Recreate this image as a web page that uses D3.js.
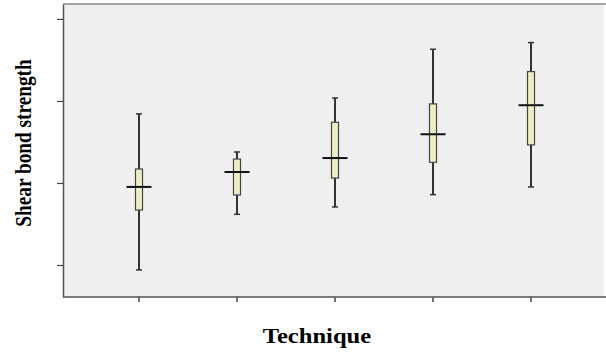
<!DOCTYPE html>
<html>
<head>
<meta charset="utf-8">
<script src="https://cdn.jsdelivr.net/npm/d3@7"></script>
<style>
  body { margin: 0; background: #fff; }
  svg { display: block; }
</style>
</head>
<body>
<svg id="chart" width="606" height="352"></svg>
<script>
// data (no value labels on the axis, so the units are arbitrary)
var techniques = ["T1", "T2", "T3", "T4", "T5"];
var whiskerLow  = [4.70, 8.09, 8.54, 9.29, 9.76];
var q1          = [8.35, 9.27, 10.30, 11.26, 12.32];
var medians     = [9.76, 10.67, 11.52, 12.97, 14.74];
var q3          = [10.85, 11.46, 13.70, 14.82, 16.79];
var whiskerHigh = [14.21, 11.89, 15.18, 18.15, 18.56];
var yTicks = [5, 10, 15, 20];

var svg = d3.select("svg#chart");
var plot = { left: 63, top: 4, right: 604, bottom: 297 };

var x = d3.scaleBand()
    .domain(techniques)
    .range([90, 580]);

var y = d3.scaleLinear()
    .domain([3.05, 20.91])
    .range([plot.bottom, plot.top]);

var boxes = techniques.map(function(t, i) {
    return { t: t, lo: whiskerLow[i], q1: q1[i], med: medians[i], q3: q3[i], hi: whiskerHigh[i] };
});

// plot background
svg.append("rect")
    .attr("x", plot.left)
    .attr("y", plot.top)
    .attr("width", plot.right - plot.left)
    .attr("height", plot.bottom - plot.top)
    .attr("fill", "#efefef");

svg.append("line")
    .attr("x1", plot.left).attr("x2", 606)
    .attr("y1", plot.top).attr("y2", plot.top)
    .attr("stroke", "#888").attr("stroke-width", 1.5);

// axes, ticks only
var yAxis = svg.append("g")
    .attr("transform", "translate(" + plot.left + ",0)")
    .call(d3.axisLeft(y).tickValues(yTicks).tickSize(6).tickSizeOuter(0).tickFormat(""));
yAxis.select(".domain").attr("stroke", "#555").attr("stroke-width", 1.5);
yAxis.selectAll(".tick line").attr("stroke", "#444").attr("stroke-width", 1.2);

var xAxis = svg.append("g")
    .attr("transform", "translate(0," + plot.bottom + ")")
    .call(d3.axisBottom(x).tickSize(5).tickFormat("").tickSizeOuter(0));
xAxis.select(".domain").remove();
xAxis.selectAll(".tick line").attr("stroke", "#444").attr("stroke-width", 1.5);
svg.append("line")
    .attr("x1", plot.left).attr("x2", 606)
    .attr("y1", plot.bottom).attr("y2", plot.bottom)
    .attr("stroke", "#555").attr("stroke-width", 1.5);

// box plots
var g = svg.selectAll(".box")
    .data(boxes)
    .enter()
    .append("g")
    .attr("class", "box")
    .attr("transform", d => "translate(" + (x(d.t) + x.bandwidth() / 2) + ",0)");

g.append("line")
    .attr("x1", 0).attr("x2", 0)
    .attr("y1", d => y(d.hi)).attr("y2", d => y(d.lo))
    .attr("stroke", "#333").attr("stroke-width", 2);

g.selectAll(".cap")
    .data(d => [d.lo, d.hi])
    .enter()
    .append("line")
    .attr("class", "cap")
    .attr("x1", -3).attr("x2", 3)
    .attr("y1", v => y(v)).attr("y2", v => y(v))
    .attr("stroke", "#333").attr("stroke-width", 1.5);

g.append("rect")
    .attr("x", -3.5)
    .attr("width", 7)
    .attr("y", d => y(d.q3))
    .attr("height", d => y(d.q1) - y(d.q3))
    .attr("fill", "#eeeec4")
    .attr("stroke", "#444")
    .attr("stroke-width", 1.2);

g.append("line")
    .attr("x1", -12.5).attr("x2", 12.5)
    .attr("y1", d => y(d.med)).attr("y2", d => y(d.med))
    .attr("stroke", "#111").attr("stroke-width", 2);

// titles (the source image is a little stretched sideways)
svg.append("text")
    .attr("transform", "translate(31,143) scale(1.15,1) rotate(-90)")
    .attr("text-anchor", "middle")
    .style("font-family", "'Liberation Serif', 'DejaVu Serif', serif")
    .style("font-weight", "bold")
    .style("font-size", "19.3px")
    .text("Shear bond strength");

svg.append("text")
    .attr("transform", "translate(317,343) scale(1.23,1)")
    .attr("text-anchor", "middle")
    .style("font-family", "'Liberation Serif', 'DejaVu Serif', serif")
    .style("font-weight", "bold")
    .style("font-size", "20px")
    .text("Technique");
</script>
</body>
</html>
